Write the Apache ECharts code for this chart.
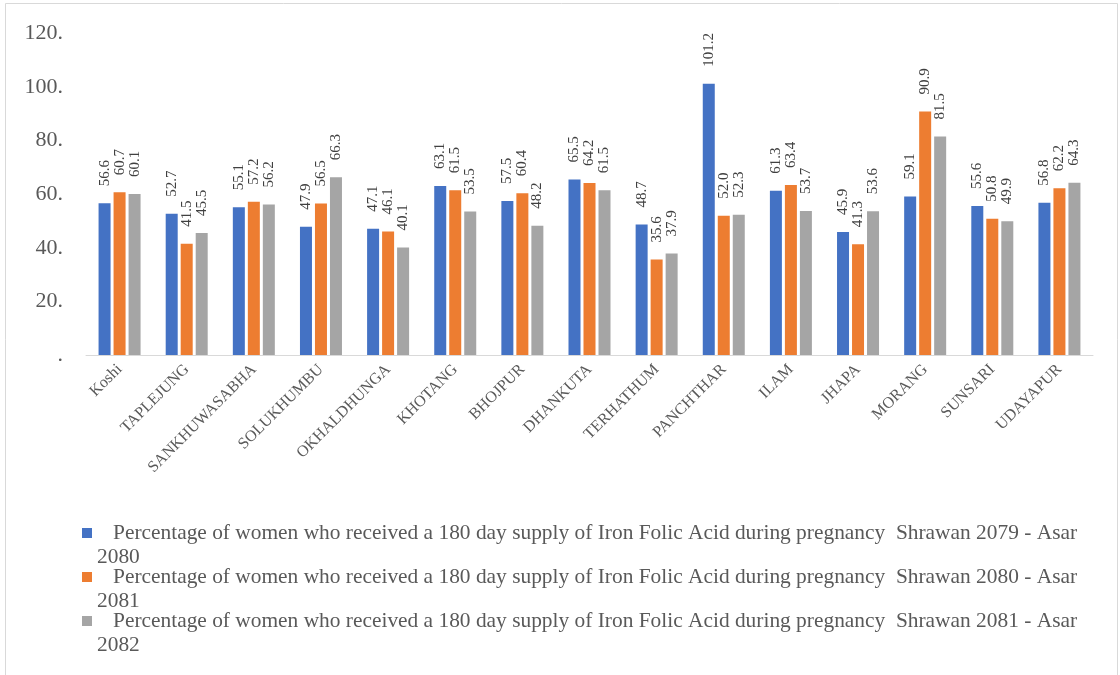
<!DOCTYPE html>
<html>
<head>
<meta charset="utf-8">
<script src="https://cdn.jsdelivr.net/npm/echarts@6/dist/echarts.min.js"></script>
<style>
html,body{margin:0;padding:0;background:#fff;}
#chart{width:1120px;height:675px;}
</style>
</head>
<body>
<div id="chart"></div>
<script>
const categories = ['Koshi','TAPLEJUNG','SANKHUWASABHA','SOLUKHUMBU','OKHALDHUNGA','KHOTANG','BHOJPUR','DHANKUTA','TERHATHUM','PANCHTHAR','ILAM','JHAPA','MORANG','SUNSARI','UDAYAPUR'];
const seriesNames = [
  'Percentage of women who received a 180 day supply of Iron Folic Acid during pregnancy  Shrawan 2079 - Asar 2080',
  'Percentage of women who received a 180 day supply of Iron Folic Acid during pregnancy  Shrawan 2080 - Asar 2081',
  'Percentage of women who received a 180 day supply of Iron Folic Acid during pregnancy  Shrawan 2081 - Asar 2082'
];
const values2079 = [56.6,52.7,55.1,47.9,47.1,63.1,57.5,65.5,48.7,101.2,61.3,45.9,59.1,55.6,56.8];
const values2080 = [60.7,41.5,57.2,56.5,46.1,61.5,60.4,64.2,35.6,52.0,63.4,41.3,90.9,50.8,62.2];
const values2081 = [60.1,45.5,56.2,66.3,40.1,53.5,48.2,61.5,37.9,52.3,53.7,53.6,81.5,49.9,64.3];
const yTicks = [0,20,40,60,80,100,120];

const colors = ['#4472C4','#ED7D31','#A5A5A5'];
const FONT = "'Liberation Serif','Times New Roman',serif";
const allValues = [values2079, values2080, values2081];

const chart = echarts.init(document.getElementById('chart'), null, {renderer:'canvas'});

const rich = {
  sp: {width: 21},
  ind: {width: 15},
  txt: {fontSize: 21.4, fontFamily: FONT, color: '#595959', lineHeight: 24}
};
colors.forEach((c, i) => {
  rich['m' + i] = {width: 10, height: 10, backgroundColor: c};
});

const option = {
  backgroundColor: '#ffffff',
  animation: false,
  color: colors,
  graphic: [{
    type: 'rect',
    shape: {x: 5.5, y: 3.5, width: 1112, height: 680},
    style: {fill: 'none', stroke: '#d9d9d9', lineWidth: 1},
    silent: true
  }],
  grid: {left: 86, right: 27, top: 33.4, bottom: 320, containLabel: false},
  xAxis: {
    type: 'category',
    data: categories,
    axisLine: {lineStyle: {color: '#d9d9d9', width: 1}},
    axisTick: {show: false},
    axisLabel: {
      rotate: 45,
      interval: 0,
      margin: 12,
      fontSize: 16,
      fontFamily: FONT,
      color: '#595959'
    }
  },
  yAxis: {
    type: 'value',
    min: yTicks[0],
    max: yTicks[yTicks.length - 1],
    interval: 20,
    axisLine: {show: false},
    axisTick: {show: false},
    splitLine: {show: false},
    axisLabel: {
      margin: 23,
      fontSize: 22,
      fontFamily: FONT,
      color: '#595959',
      formatter: v => (v === 0 ? '.' : v + '.')
    }
  },
  legend: {
    orient: 'vertical',
    left: 72,
    top: 516,
    itemWidth: 0,
    itemHeight: 0,
    itemGap: -4,
    data: seriesNames,
    textStyle: {fontSize: 21.4, fontFamily: FONT, color: '#595959', lineHeight: 24, rich: rich},
    formatter: name => {
      const i = seriesNames.indexOf(name);
      const k = name.lastIndexOf(' ');
      return '{m' + i + '|}{sp|}{txt|' + name.slice(0, k) + '}\n{ind|}{txt|' + name.slice(k + 1) + '}';
    }
  },
  series: seriesNames.map((n, i) => ({
    name: n,
    type: 'bar',
    data: allValues[i],
    barWidth: 12,
    barGap: '25%',
    itemStyle: {color: colors[i]},
    label: {
      show: true,
      position: 'top',
      distance: 17,
      rotate: 90,
      align: 'left',
      verticalAlign: 'middle',
      fontSize: 15,
      fontFamily: FONT,
      color: '#404040',
      formatter: p => Number(p.value).toFixed(1)
    }
  }))
};
chart.setOption(option);
</script>
</body>
</html>
